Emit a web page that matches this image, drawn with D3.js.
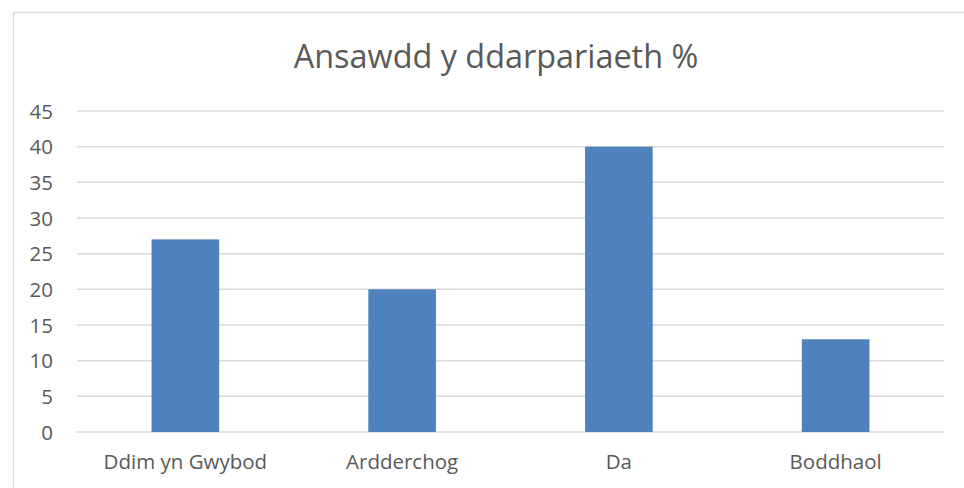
<!DOCTYPE html>
<html lang="cy">
  <head>
    <meta charset="UTF-8" />
    <title>Ansawdd y ddarpariaeth %</title>
    <script src="https://d3js.org/d3.v7.min.js"></script>
    <style>
      body {
        margin: 0;
        background: #fff;
      }
      text {
        font-family: "Open Sans", sans-serif;
        fill: #595959;
      }
    </style>
  </head>
  <body>
    <svg width="964" height="488"></svg>

    <script>
      var title = "Ansawdd y ddarpariaeth %";
      var categories = ["Ddim yn Gwybod", "Ardderchog", "Da", "Boddhaol"];
      var values = [27, 20, 40, 13];
      var yTicks = [0, 5, 10, 15, 20, 25, 30, 35, 40, 45];

      var svg = d3.select("svg");
      var margin = { top: 111, right: 20, bottom: 56, left: 77 };
      var width = 944 - margin.left,
        height = 432 - margin.top;

      // chart frame
      svg
        .append("rect")
        .attr("x", 13.5)
        .attr("y", 12.5)
        .attr("width", 964)
        .attr("height", 500)
        .attr("fill", "none")
        .attr("stroke", "#d9d9d9")
        .attr("stroke-width", 1.5);

      svg
        .append("text")
        .attr("x", 496)
        .attr("y", 68)
        .attr("text-anchor", "middle")
        .style("font-size", "32.4px")
        .text(title);

      var g = svg
        .append("g")
        .attr("transform", "translate(" + margin.left + "," + margin.top + ")");

      var x = d3.scaleBand().domain(categories).range([0, width]).padding(0);
      var y = d3.scaleLinear().domain([0, 45]).range([height, 0]);

      // gridlines
      g.selectAll(".grid")
        .data(yTicks)
        .enter()
        .append("line")
        .attr("class", "grid")
        .attr("x1", 0)
        .attr("x2", width)
        .attr("y1", function (d) {
          return y(d);
        })
        .attr("y2", function (d) {
          return y(d);
        })
        .attr("stroke", "#d9d9d9")
        .attr("stroke-width", 1.5);

      var yAxis = g
        .append("g")
        .call(d3.axisLeft(y).tickValues(yTicks).tickSize(0).tickPadding(24));
      yAxis.select(".domain").remove();
      yAxis
        .selectAll("text")
        .style("font-size", "20.5px")
        .attr("fill", "#595959")
        .attr("dy", "0.35em");

      var barW = x.bandwidth() * 0.312;
      g.selectAll(".bar")
        .data(values)
        .enter()
        .append("rect")
        .attr("class", "bar")
        .attr("x", function (d, i) {
          return x(categories[i]) + x.bandwidth() / 2 - barW / 2;
        })
        .attr("y", function (d) {
          return y(d);
        })
        .attr("width", barW)
        .attr("height", function (d) {
          return height - y(d);
        })
        .attr("fill", "#4f81bd");

      var xAxis = g
        .append("g")
        .attr("transform", "translate(0," + height + ")")
        .call(d3.axisBottom(x).tickSize(0).tickPadding(22));
      xAxis.select(".domain").remove();
      xAxis
        .selectAll("text")
        .style("font-size", "20.5px")
        .attr("fill", "#595959");
    </script>
  </body>
</html>
